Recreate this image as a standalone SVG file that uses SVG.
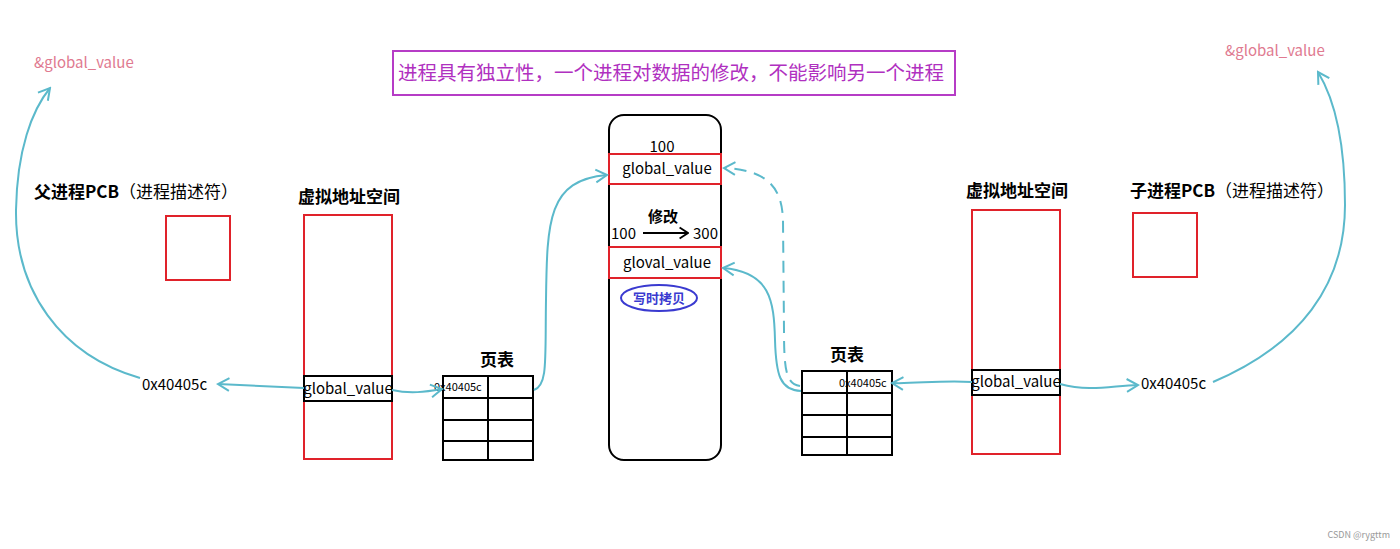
<svg xmlns="http://www.w3.org/2000/svg" width="1400" height="549" viewBox="0 0 1400 549">
<style>
text{font-family:"Noto Sans CJK SC","Noto Sans",sans-serif;fill:#000}
.red{fill:none;stroke:#e0222a;stroke-width:2}
.blk{fill:none;stroke:#000;stroke-width:2}
.con{fill:none;stroke:#5bb9cb;stroke-width:2}
.pink{fill:#e07a90;font-size:15px}
.b{font-weight:bold}
.t15{font-size:15px}
.t17{font-size:17px}
.sm{font-size:11px}
</style>
<defs>
<marker id="ah" viewBox="0 0 20 20" refX="18" refY="10" markerWidth="16" markerHeight="16" markerUnits="userSpaceOnUse" orient="auto">
<polyline points="4,2 18,10 4,18" fill="none" stroke="#5bb9cb" stroke-width="2.5"/>
</marker>
<marker id="bh" viewBox="0 0 20 20" refX="18" refY="10" markerWidth="14" markerHeight="14" markerUnits="userSpaceOnUse" orient="auto">
<polyline points="6,2 18,10 6,18" fill="none" stroke="#000" stroke-width="2.5"/>
</marker>
</defs>
<rect width="1400" height="549" fill="#fff"/>

<g id="title">
<rect x="393" y="51" width="562" height="44" fill="none" stroke="#b63cc6" stroke-width="2"/>
<text x="671" y="80" text-anchor="middle" style="fill:#b030c0;font-size:19.5px">进程具有独立性，一个进程对数据的修改，不能影响另一个进程</text>
</g>

<g id="parent-addr-label"><text x="34" y="68" class="pink">&amp;global_value</text></g>
<g id="parent-pcb">
<text x="34" y="198" class="t17"><tspan class="b">父进程PCB</tspan>（进程描述符）</text>
<rect x="166" y="216" width="64" height="64" class="red"/>
</g>
<g id="parent-vas">
<text x="349" y="203" text-anchor="middle" class="t17 b">虚拟地址空间</text>
<rect x="304" y="215" width="88" height="244" class="red"/>
<rect x="304" y="376" width="88" height="25" class="blk"/>
<text x="348" y="394" text-anchor="middle" class="t15">global_value</text>
</g>
<g id="parent-addr"><text x="142" y="390" class="t15">0x40405c</text></g>
<g id="parent-pt">
<text x="497" y="366" text-anchor="middle" class="t17 b">页表</text>
<rect x="443" y="376" width="90" height="84" class="blk"/>
<line x1="488" y1="376" x2="488" y2="460" class="blk"/>
<line x1="443" y1="398" x2="533" y2="398" class="blk"/>
<line x1="443" y1="420" x2="533" y2="420" class="blk"/>
<line x1="443" y1="441" x2="533" y2="441" class="blk"/>
<text x="434" y="391" class="sm">0x40405c</text>
</g>

<g id="physical">
<rect x="609" y="115" width="112" height="345" rx="15" class="blk"/>
<text x="662" y="152" text-anchor="middle" class="t15">100</text>
<rect x="609" y="154" width="112" height="30" class="red"/>
<text x="667" y="174" text-anchor="middle" class="t15">global_value</text>
<text x="663" y="222" text-anchor="middle" class="t15 b">修改</text>
<text x="611" y="239" class="t15">100</text>
<line x1="643" y1="233" x2="688" y2="233" stroke="#000" stroke-width="2" marker-end="url(#bh)"/>
<text x="693" y="239" class="t15">300</text>
<rect x="609" y="247" width="112" height="31" class="red"/>
<text x="667" y="268" text-anchor="middle" class="t15">gloval_value</text>
<ellipse cx="659" cy="298" rx="38" ry="13" fill="none" stroke="#3a3ad0" stroke-width="2"/>
<text x="659" y="303" text-anchor="middle" class="b" style="fill:#3a3ad0;font-size:13px">写时拷贝</text>
</g>

<g id="child-pt">
<text x="847" y="361" text-anchor="middle" class="t17 b">页表</text>
<rect x="802" y="371" width="90" height="84" class="blk"/>
<line x1="847" y1="371" x2="847" y2="455" class="blk"/>
<line x1="802" y1="393" x2="892" y2="393" class="blk"/>
<line x1="802" y1="415" x2="892" y2="415" class="blk"/>
<line x1="802" y1="437" x2="892" y2="437" class="blk"/>
<text x="839" y="387" class="sm">0x40405c</text>
</g>
<g id="child-vas">
<text x="1017" y="197" text-anchor="middle" class="t17 b">虚拟地址空间</text>
<rect x="972" y="210" width="88" height="244" class="red"/>
<rect x="972" y="370" width="88" height="25" class="blk"/>
<text x="1016" y="387" text-anchor="middle" class="t15">global_value</text>
</g>
<g id="child-addr"><text x="1141" y="389" class="t15">0x40405c</text></g>
<g id="child-pcb">
<text x="1130" y="197" class="t17"><tspan class="b">子进程PCB</tspan>（进程描述符）</text>
<rect x="1133" y="213" width="64" height="64" class="red"/>
</g>
<g id="child-addr-label"><text x="1225" y="56" class="pink">&amp;global_value</text></g>

<g id="connectors">
<path d="M140,378 C60,355 15,290 16,210 C17,150 32,110 50,88" class="con" marker-end="url(#ah)"/>
<path d="M304,388 L218,384" class="con" marker-end="url(#ah)"/>
<path d="M392,390 C410,394 425,392 442,389" class="con" marker-end="url(#ah)"/>
<path d="M534,390 C548,385 545,360 546,300 C547,220 548,180 607,175" class="con" marker-end="url(#ah)"/>
<path d="M800,386 C786,384 784,370 784,330 L783,220 C782,190 770,170 724,168" class="con" stroke-dasharray="12,8" marker-end="url(#ah)"/>
<path d="M801,391 C780,390 776,375 775,340 C774,300 770,272 723,268" class="con" marker-end="url(#ah)"/>
<path d="M972,382 C940,380 915,384 892,383" class="con" marker-end="url(#ah)"/>
<path d="M1060,384 C1090,392 1110,386 1138,385" class="con" marker-end="url(#ah)"/>
<path d="M1213,382 C1300,345 1345,285 1345,205 C1345,135 1332,95 1318,72" class="con" marker-end="url(#ah)"/>
</g>

<g id="watermark"><text x="1390" y="538" text-anchor="end" style="fill:#999;font-size:9px">CSDN @rygttm</text></g>
</svg>
